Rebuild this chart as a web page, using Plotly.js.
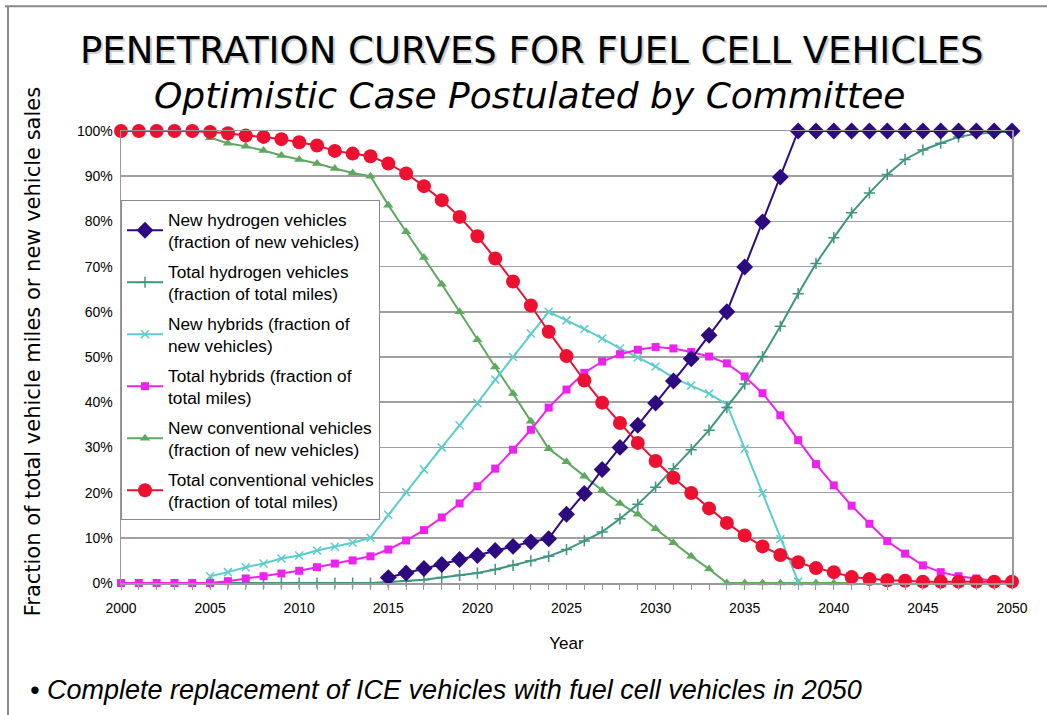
<!DOCTYPE html>
<html>
<head>
<meta charset="utf-8">
<script src="https://cdn.plot.ly/plotly-3.0.1.min.js"></script>
<style>
html,body{margin:0;padding:0;background:#fff;}
#chart{width:1047px;height:715px;}
</style>
</head>
<body>
<div id="chart"></div>
<script>
var years = [];
for (var yr = 2000; yr <= 2050; yr++) years.push(yr);

var newH2Years = [2015,2016,2017,2018,2019,2020,2021,2022,2023,2024,2025,2026,2027,2028,2029,2030,2031,2032,2033,2034,2035,2036,2037,2038,2039,2040,2041,2042,2043,2044,2045,2046,2047,2048,2049,2050];
var newH2 = [1.2,2.2,3.2,4.1,5.2,6.1,7.2,8.1,9.1,9.8,15.2,19.8,25.1,30,34.9,39.8,44.7,49.6,54.8,60,69.9,79.9,89.8,100,100,100,100,100,100,100,100,100,100,100,100,100];

var totH2Years = [2005,2006,2007,2008,2009,2010,2011,2012,2013,2014,2015,2016,2017,2018,2019,2020,2021,2022,2023,2024,2025,2026,2027,2028,2029,2030,2031,2032,2033,2034,2035,2036,2037,2038,2039,2040,2041,2042,2043,2044,2045,2046,2047,2048,2049,2050];
var totH2 = [0,0,0,0,0,0,0,0,0,0,0.2,0.4,0.7,1.2,1.7,2.2,3,3.9,4.9,5.9,7.4,9.3,11.3,14.2,17.4,21.2,25.3,29.5,33.8,38.8,44,50.1,56.8,64,70.7,76.4,81.9,86.3,90.4,93.7,95.8,97.3,98.7,99.4,99.7,99.9];

var newHybYears = [2005,2006,2007,2008,2009,2010,2011,2012,2013,2014,2015,2016,2017,2018,2019,2020,2021,2022,2023,2024,2025,2026,2027,2028,2029,2030,2031,2032,2033,2034,2035,2036,2037,2038];
var newHyb = [1.5,2.4,3.5,4.3,5.4,6.1,7.2,8,8.9,10,15.1,20.1,25.1,30,34.9,39.8,45,50,55.2,60,58.1,56.2,54.1,51.9,49.9,47.9,45.4,43.7,41.9,39.5,29.7,19.9,9.7,0.3];

var totHyb = [0,0,0,0,0,0,0.4,1,1.5,2.1,2.7,3.5,4.3,5,5.9,7.4,9.4,11.7,14.5,17.6,21.4,25.3,29.5,33.9,38.8,42.8,46.5,49,50.6,51.6,52.2,51.9,51.1,50.1,48.6,45.7,42,37.1,31.6,26.3,21.6,17.1,13.1,9.3,6.5,3.9,2.4,1.5,1,0.5,0.3];

var newConvYears = [2005,2006,2007,2008,2009,2010,2011,2012,2013,2014,2015,2016,2017,2018,2019,2020,2021,2022,2023,2024,2025,2026,2027,2028,2029,2030,2031,2032,2033,2034,2035,2036,2037,2038,2039,2040,2041];
var newConv = [98.5,97.3,96.6,95.7,94.6,93.7,92.8,91.7,90.7,90,83.6,77.7,72,66.1,60,53.8,47.8,41.9,35.8,29.7,26.8,23.6,20.5,17.6,15.2,12,8.9,5.9,3.1,0,0,0,0,0,0,0,0];

var totConv = [100,100,100,100,100,99.8,99.5,99,98.7,98.2,97.5,96.8,95.6,95,94.4,92.8,90.6,87.8,84.7,81,76.7,71.8,66.7,61.4,55.6,50.2,44.8,39.9,35.4,31,27,23.3,19.9,16.5,13.3,10.5,8.1,6.2,4.6,3.3,2.4,1.3,0.9,0.6,0.5,0.3,0.3,0.3,0.3,0.3,0.3];

var xTicks = [2000,2005,2010,2015,2020,2025,2030,2035,2040,2045,2050];
var yTicks = [0,10,20,30,40,50,60,70,80,90,100];

var names = [
  "New hydrogen vehicles<br>(fraction of new vehicles)",
  "Total hydrogen vehicles<br>(fraction of total miles)",
  "New hybrids (fraction of<br>new vehicles)",
  "Total hybrids (fraction of<br>total miles)",
  "New conventional vehicles<br>(fraction of new vehicles)",
  "Total conventional vehicles<br>(fraction of total miles)"
];

function tr(x, y, name, color, symbol, size, rank, mline) {
  return {
    x: x, y: y, name: name, type: 'scatter', mode: 'lines+markers',
    cliponaxis: false, legendrank: rank, legendgroup: 'g' + rank,
    line: {color: color, width: 2},
    marker: {color: color, symbol: symbol, size: size, line: mline || {width: 0}}
  };
}

var data = [
  tr(newConvYears, newConv, names[4], '#5fa85f', 'triangle-up', 9, 500),
  tr(newHybYears, newHyb, names[2], '#5ccccc', 'x-thin', 8, 300, {width: 1.5, color: '#5ccccc'}),
  tr(totH2Years, totH2, names[1], '#3f9580', 'cross-thin', 8, 200, {width: 1.5, color: '#3f9580'}),
  tr(years, totHyb, names[3], '#ee22ee', 'square', 8, 400),
  tr(newH2Years, newH2, names[0], '#2e0a80', 'diamond', 13, 100),
  tr(years, totConv, names[5], '#ee1030', 'circle', 14, 600)
];

function px(x) { return (x - 121) / 891; }
function py(y) { return (582.7 - y) / 452; }

var layout = {
  width: 1047, height: 715,
  margin: {l: 121, r: 35, t: 131, b: 132},
  paper_bgcolor: '#ffffff', plot_bgcolor: '#ffffff',
  font: {family: 'Liberation Sans, Arial, sans-serif', color: '#000'},
  showlegend: true,
  legend: {
    x: 0, y: py(200), xanchor: 'left', yanchor: 'top',
    bgcolor: '#ffffff', bordercolor: '#888', borderwidth: 1,
    font: {size: 17.3, family: 'Liberation Sans, Arial, sans-serif'},
    itemwidth: 36, traceorder: 'grouped', tracegroupgap: 4
  },
  xaxis: {
    range: [2000, 2050], tickvals: xTicks, ticktext: xTicks.map(String),
    showgrid: false, zeroline: false, showline: true, linecolor: '#999', linewidth: 1.5, mirror: true,
    ticks: 'outside', ticklen: 5, tickcolor: '#999',
    minor: {dtick: 1, ticks: 'outside', ticklen: 5, tickcolor: '#999', showgrid: false},
    tickfont: {size: 14},
    ticklabelstandoff: 7,
    title: {text: 'Year', font: {size: 17}, standoff: 22}
  },
  yaxis: {
    range: [0, 100], tickvals: yTicks, ticktext: yTicks.map(function(v){return v + '%';}),
    showgrid: true, gridcolor: '#a0a0a0', gridwidth: 1.5, zeroline: false,
    showline: true, linecolor: '#999', linewidth: 1.5, mirror: true,
    ticks: '', tickfont: {size: 14}, ticklabelstandoff: 4
  },
  annotations: [
    {text: 'PENETRATION CURVES FOR FUEL CELL VEHICLES', xref: 'paper', yref: 'paper', x: px(534), y: py(52), xanchor: 'center', yanchor: 'middle',
     showarrow: false, font: {family: 'DejaVu Sans', size: 37, color: '#d0d0d0'}},
    {text: 'PENETRATION CURVES FOR FUEL CELL VEHICLES', xref: 'paper', yref: 'paper', x: px(532), y: py(50), xanchor: 'center', yanchor: 'middle',
     showarrow: false, font: {family: 'DejaVu Sans', size: 37, color: '#000'}},
    {text: '<i>Optimistic Case Postulated by Committee</i>', xref: 'paper', yref: 'paper', x: px(530), y: py(95), xanchor: 'center', yanchor: 'middle',
     showarrow: false, font: {family: 'DejaVu Sans', size: 36, color: '#000'}},
    {text: 'Fraction of total vehicle miles or new vehicle sales', xref: 'paper', yref: 'paper', x: px(33), y: py(352), xanchor: 'center', yanchor: 'middle',
     textangle: -90, showarrow: false, font: {family: 'DejaVu Sans', size: 21, color: '#000'}},
    {text: '<i>• Complete replacement of ICE vehicles with fuel cell vehicles in 2050</i>', xref: 'paper', yref: 'paper', x: px(28), xanchor: 'left', y: py(690), yanchor: 'middle',
     showarrow: false, font: {family: 'Liberation Sans', size: 27, color: '#000'}}
  ],
  shapes: [
    {type: 'line', xref: 'paper', yref: 'paper', x0: px(5), x1: px(1047), y0: py(6), y1: py(6), line: {color: '#888', width: 2}},
    {type: 'line', xref: 'paper', yref: 'paper', x0: px(8), x1: px(8), y0: py(6), y1: py(715), line: {color: '#888', width: 2}}
  ]
};

Plotly.newPlot('chart', data, layout, {staticPlot: true, displayModeBar: false});
</script>
</body>
</html>
